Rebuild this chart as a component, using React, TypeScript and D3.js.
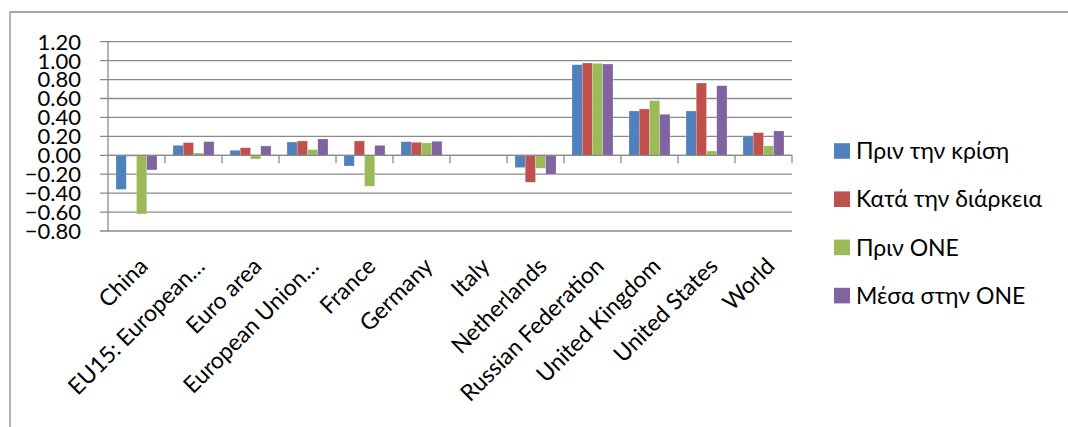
import React from "react";
import * as d3 from "d3";

const categories = [
  "China",
  "EU15: European…",
  "Euro area",
  "European Union…",
  "France",
  "Germany",
  "Italy",
  "Netherlands",
  "Russian Federation",
  "United Kingdom",
  "United States",
  "World",
];

const seriesNames = ["Πριν την κρίση", "Κατά την διάρκεια", "Πριν ΟΝΕ", "Μέσα στην ΟΝΕ"];
const seriesColors = ["#4F81BD", "#C0504D", "#9BBB59", "#8064A2"];

const beforeCrisis = [-0.36, 0.105, 0.053, 0.14, -0.113, 0.144, 0, -0.13, 0.957, 0.468, 0.468, 0.204];
const duringCrisis = [-0.01, 0.133, 0.08, 0.151, 0.151, 0.137, 0, -0.285, 0.975, 0.489, 0.763, 0.239];
const beforeEmu = [-0.62, 0.024, -0.04, 0.06, -0.327, 0.13, 0, -0.137, 0.971, 0.577, 0.045, 0.1];
const inEmu = [-0.155, 0.144, 0.098, 0.172, 0.105, 0.148, 0, -0.2, 0.964, 0.433, 0.735, 0.257];

const seriesValues = [beforeCrisis, duringCrisis, beforeEmu, inEmu];

const yTicks = [1.2, 1.0, 0.8, 0.6, 0.4, 0.2, 0, -0.2, -0.4, -0.6, -0.8];

const W = 1068;
const H = 427;
const plotLeft = 108;
const plotRight = 792;
const plotTop = 41.7;
const plotBottom = 231;
const FONT = "Lato, 'Open Sans', sans-serif";
const GRID = "#8a8a8a";

export default function App() {
  const x0 = d3.scaleBand<string>().domain(categories).range([plotLeft, plotRight]).padding(0);
  const gap = 8;
  const x1 = d3
    .scaleBand<number>()
    .domain(d3.range(seriesNames.length))
    .range([gap, x0.bandwidth() - gap])
    .padding(0);
  const y = d3.scaleLinear().domain([-0.8, 1.2]).range([plotBottom, plotTop]);
  const y0 = y(0);

  return (
    <svg
      width={W}
      height={H}
      style={{ position: "absolute", left: 0, top: 0, background: "#fff" }}
      fontFamily={FONT}
    >
      {/* outer frame */}
      <line x1={10} y1={12} x2={W} y2={12} stroke={GRID} strokeWidth={1.3} />
      <line x1={10} y1={12} x2={10} y2={H} stroke={GRID} strokeWidth={1.3} />

      {/* gridlines with outside tick marks */}
      {yTicks.map((t) => (
        <line
          key={"g" + t}
          x1={plotLeft - 8}
          x2={plotRight}
          y1={y(t)}
          y2={y(t)}
          stroke={GRID}
          strokeWidth={1.3}
        />
      ))}
      {/* y axis */}
      <line x1={plotLeft} x2={plotLeft} y1={plotTop} y2={plotBottom} stroke={GRID} strokeWidth={1.3} />

      {/* y tick labels */}
      {yTicks.map((t) => (
        <text
          key={"t" + t}
          x={81}
          y={y(t)}
          dy="0.36em"
          textAnchor="end"
          fontSize={22}
          fill="#000"
        >
          {d3.format(".2f")(t)}
        </text>
      ))}

      {/* bars */}
      {categories.map((c, i) => (
        <g key={c} transform={`translate(${x0(c)},0)`}>
          {seriesValues.map((vals, s) => {
            const v = vals[i];
            const yv = y(v);
            return (
              <rect
                key={s}
                x={x1(s)}
                width={x1.bandwidth()}
                y={Math.min(yv, y0)}
                height={Math.abs(yv - y0)}
                fill={seriesColors[s]}
                stroke="#ffffff"
                strokeOpacity={0.35}
                strokeWidth={0.6}
              />
            );
          })}
        </g>
      ))}

      {/* x axis at zero with ticks */}
      <line x1={plotLeft} x2={plotRight} y1={y0} y2={y0} stroke={GRID} strokeWidth={1.3} />
      {categories.map((c) => (
        <line
          key={"xt" + c}
          x1={x0(c)! + x0.bandwidth()}
          x2={x0(c)! + x0.bandwidth()}
          y1={y0}
          y2={y0 + 8}
          stroke={GRID}
          strokeWidth={1.3}
        />
      ))}

      {/* x labels */}
      {categories.map((c) => {
        const cx = x0(c)! + x0.bandwidth() / 2;
        return (
          <text
            key={"xl" + c}
            transform={`translate(${cx + 1},256) rotate(-45)`}
            textAnchor="end"
            dy="0.72em"
            fontSize={23}
            fill="#000"
          >
            {c}
          </text>
        );
      })}

      {/* legend */}
      {seriesNames.map((n, s) => {
        const cy = 151 + s * 48.2;
        return (
          <g key={n}>
            <rect x={834} y={cy - 7.8} width={16} height={15.6} fill={seriesColors[s]} />
            <text x={856} y={cy} dy="0.36em" fontSize={23} fill="#000">
              {n}
            </text>
          </g>
        );
      })}
    </svg>
  );
}
